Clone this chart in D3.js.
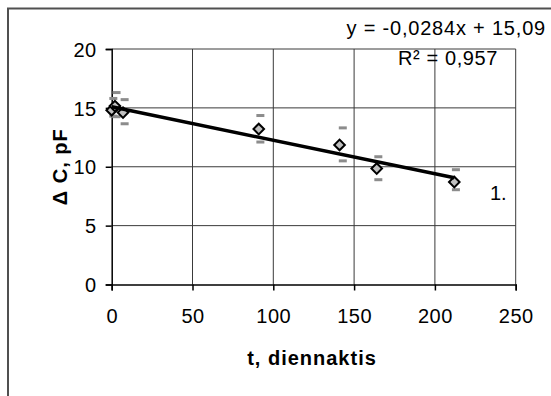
<!DOCTYPE html>
<html>
<head>
<meta charset="utf-8">
<script src="https://cdn.jsdelivr.net/npm/d3@7"></script>
<style>
  body { margin: 0; background: #fff; }
  text { font-family: "Liberation Sans", Arial, sans-serif; }
</style>
</head>
<body>
<div id="chart"></div>
<script>
// mõõtepunktid (keskmine)
var t_days = [0, 2, 7, 91, 141, 164, 212];
var dC = [14.8, 15.15, 14.6, 13.2, 11.85, 9.85, 8.7];
// vearibade otsad (hall kriips)
var err_t = [1, 3, 8, 92, 143, 165, 213];
var err_hi = [15.8, 16.3, 15.7, 14.35, 13.3, 10.85, 9.75];
var err_lo = [14.3, 14.25, 13.65, 12.1, 10.5, 8.9, 8.05];
// trendijoon
var slope = -0.0284, intercept = 15.09;
var x_ticks = [0, 50, 100, 150, 200, 250];
var y_ticks = [0, 5, 10, 15, 20];

var width = 551, height = 396;

var svg = d3.select("#chart").append("svg")
    .attr("width", width)
    .attr("height", height);

// välimine raam (paremal ja all lõigatud)
svg.append("path")
    .attr("d", "M8,400 L8,8.5 L560,8.5")
    .attr("fill", "none")
    .attr("stroke", "#505050")
    .attr("stroke-width", 2);

var x = d3.scaleLinear().domain([0, 250]).range([111.7, 515.7]);
var y = d3.scaleLinear().domain([0, 20]).range([284.5, 49]);

// ruudustik
svg.append("g").selectAll("line")
    .data(x_ticks.slice(1))
    .enter().append("line")
    .attr("x1", function(d) { return x(d); })
    .attr("x2", function(d) { return x(d); })
    .attr("y1", y(0))
    .attr("y2", y(20))
    .attr("stroke", "#3a3a3a")
    .attr("stroke-width", 1);

svg.append("g").selectAll("line")
    .data(y_ticks.slice(1))
    .enter().append("line")
    .attr("x1", x(0))
    .attr("x2", x(250))
    .attr("y1", function(d) { return y(d); })
    .attr("y2", function(d) { return y(d); })
    .attr("stroke", "#3a3a3a")
    .attr("stroke-width", 1);

// teljed
var xAxis = svg.append("g")
    .attr("transform", "translate(0," + y(0) + ")")
    .call(d3.axisBottom(x).tickValues(x_ticks).tickSize(6).tickPadding(18).tickFormat(d3.format("d")));
var yAxis = svg.append("g")
    .attr("transform", "translate(" + x(0) + ",0)")
    .call(d3.axisLeft(y).tickValues(y_ticks).tickSize(6).tickPadding(9).tickFormat(d3.format("d")));

[xAxis, yAxis].forEach(function(a) {
    a.select(".domain").attr("stroke", "#000").attr("stroke-width", 1.5);
    a.selectAll(".tick line").attr("stroke", "#000").attr("stroke-width", 1.5);
    a.selectAll(".tick text")
        .attr("fill", "#000")
        .style("font-size", "20px")
        .style("letter-spacing", "0.5px")
        .style("font-family", "Liberation Sans, Arial, sans-serif");
});
yAxis.selectAll(".tick text").attr("dy", "0.36em");

// vearibade kriipsud
var dashes = [];
for (var i = 0; i < err_t.length; i++) {
    dashes.push({t: err_t[i], v: err_hi[i]});
    dashes.push({t: err_t[i], v: err_lo[i]});
}
svg.append("g").selectAll("rect")
    .data(dashes)
    .enter().append("rect")
    .attr("x", function(d) { return x(d.t) - 4; })
    .attr("y", function(d) { return y(d.v) - 1.5; })
    .attr("width", 8)
    .attr("height", 3)
    .attr("fill", "#8c8c8c");

// punktid
var pts = t_days.map(function(d, i) { return {t: d, v: dC[i]}; });
svg.append("g").selectAll("path")
    .data(pts)
    .enter().append("path")
    .attr("d", d3.symbol().type(d3.symbolSquare).size(56))
    .attr("transform", function(d) { return "translate(" + x(d.t) + "," + y(d.v) + ") rotate(45)"; })
    .attr("fill", "#c0c0c0")
    .attr("stroke", "#000")
    .attr("stroke-width", 2);

// trendijoon
var t_max = d3.max(t_days);
svg.append("line")
    .attr("x1", x(0))
    .attr("y1", y(intercept))
    .attr("x2", x(t_max))
    .attr("y2", y(intercept + slope * t_max))
    .attr("stroke", "#000")
    .attr("stroke-width", 3.5);

// tekstid
svg.append("text")
    .attr("x", 546).attr("y", 35)
    .attr("text-anchor", "end")
    .style("font-size", "20px")
    .style("letter-spacing", "0.8px")
    .text("y = -0,0284x + 15,09");

svg.append("text")
    .attr("x", 498).attr("y", 65)
    .attr("text-anchor", "end")
    .style("font-size", "20px")
    .style("letter-spacing", "0.6px")
    .text("R² = 0,957");

svg.append("text")
    .attr("x", 490).attr("y", 200)
    .style("font-size", "20px")
    .text("1.");

svg.append("text")
    .attr("x", 312).attr("y", 365)
    .attr("text-anchor", "middle")
    .style("font-size", "20px")
    .style("font-weight", "bold")
    .style("letter-spacing", "1px")
    .text("t, diennaktis");

svg.append("text")
    .attr("transform", "translate(67," + y(10) + ") rotate(-90)")
    .attr("text-anchor", "middle")
    .style("font-size", "20px")
    .style("font-weight", "bold")
    .style("letter-spacing", "1px")
    .text("Δ C, pF");
</script>
</body>
</html>
